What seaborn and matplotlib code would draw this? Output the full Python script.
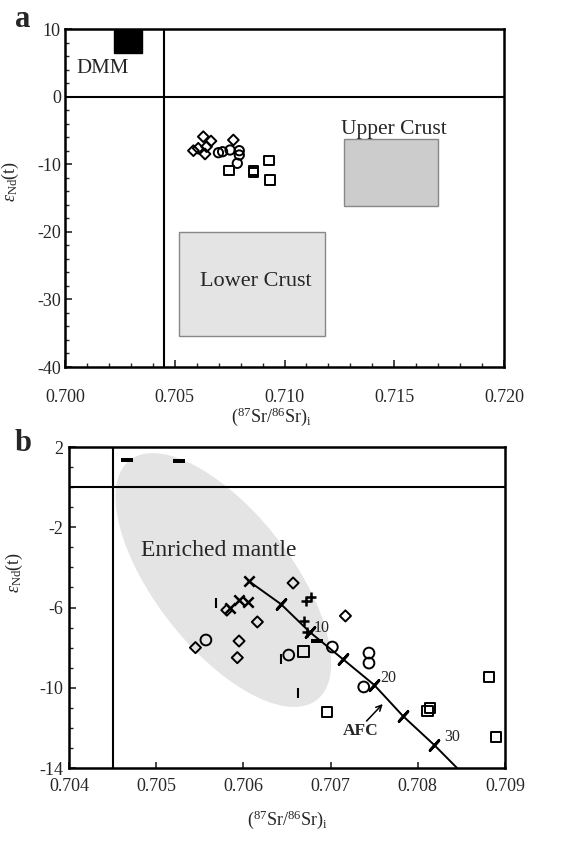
import numpy as np
import pandas as pd
import matplotlib
matplotlib.use("Agg")
import matplotlib.pyplot as plt
import seaborn as sns
from matplotlib.patches import Rectangle
from matplotlib.ticker import MultipleLocator, FixedLocator, FormatStrFormatter
from matplotlib.path import Path

# ---------------- Panel a data ----------------
a_dia_x = [0.70630, 0.70665, 0.70645, 0.70607, 0.70585, 0.70638, 0.70767]
a_dia_y = [-5.93, -6.57, -7.41, -7.65, -8.00, -8.49, -6.42]
a_cir_x = [0.70699, 0.70718, 0.70752, 0.70794, 0.70794, 0.70785]
a_cir_y = [-8.30, -8.15, -7.90, -8.00, -8.64, -9.87]
a_sq_x = [0.70747, 0.70858, 0.70858, 0.70929, 0.70934]
a_sq_y = [-10.96, -10.96, -11.25, -9.48, -12.34]

# reservoirs (x0, x1, y0, y1)
dmm_box = (0.70223, 0.70351, 6.45, 10.0)
upper_crust_box = (0.7127, 0.7170, -16.2, -6.3)
lower_crust_box = (0.7052, 0.71185, -35.4, -20.0)

# ---------------- Panel b data ----------------
b_dia_x = [0.70657, 0.70717, 0.70616, 0.70581, 0.70545, 0.70595, 0.70593]
b_dia_y = [-4.78, -6.42, -6.72, -6.13, -8.00, -7.67, -8.50]
b_cir_x = [0.70557, 0.70652, 0.70702, 0.70744, 0.70744, 0.70738]
b_cir_y = [-7.62, -8.37, -7.97, -8.27, -8.77, -9.96]
b_sq_x = [0.70669, 0.70696, 0.70811, 0.70814, 0.70882, 0.70890]
b_sq_y = [-8.20, -11.20, -11.16, -11.00, -9.47, -12.46]
b_x_x = [0.70606, 0.70595, 0.70605, 0.70585]
b_x_y = [-4.68, -5.63, -5.73, -6.00]
b_plus_x = [0.70672, 0.70678, 0.70670, 0.70673]
b_plus_y = [-5.66, -5.49, -6.68, -7.20]
b_bar_x = [0.70467, 0.70526, 0.70684]
b_bar_y = [1.35, 1.30, -7.67]
b_vbar_x = [0.70569, 0.70643, 0.70663]
b_vbar_y = [-5.79, -8.57, -10.28]

# AFC curve with tick marks (F %)
afc_x = [0.70606, 0.70643, 0.70676, 0.70714, 0.70750, 0.70783, 0.70819, 0.70845]
afc_y = [-4.68, -5.83, -7.22, -8.57, -9.86, -11.41, -12.86, -14.0]
afc_F = [0, 5, 10, 15, 20, 25, 30]
afc_labels = {10: (0.70690, -7.02), 20: (0.70766, -9.52), 30: (0.70840, -12.46)}

# Enriched mantle ellipse (center in data, axes in pixels)
em_center = (0.70577, -4.63)
em_semi_px = (152, 68)
em_angle = -52

sr_ref = 0.7045

sns.set_style("ticks")
plt.rcParams["font.family"] = ["Liberation Serif", "DejaVu Serif"]
plt.rcParams["mathtext.fontset"] = "custom"
plt.rcParams["mathtext.rm"] = "Liberation Serif"
plt.rcParams["mathtext.it"] = "Liberation Serif:italic"
plt.rcParams["axes.unicode_minus"] = False

fig = plt.figure(figsize=(5.62, 8.47), dpi=100)
W, H = 562, 847
axa = fig.add_axes([65 / W, 1 - 367 / H, 439 / W, 338 / H])
axb = fig.add_axes([69 / W, 1 - 768 / H, 436 / W, 321 / H])

open_kw = dict(color="black", facecolor="none", edgecolor="black", linewidth=1.4, legend=False, zorder=5)
line_kw = dict(color="black", edgecolor="black", legend=False, zorder=6)

# ---------- panel a ----------
axa.set_xlim(0.700, 0.720)
axa.set_ylim(-40, 10)
for (x0, x1, y0, y1), fc, ec in [
    (dmm_box, "black", "black"),
    (upper_crust_box, "#cccccc", "#888888"),
    (lower_crust_box, "#e4e4e4", "#888888"),
]:
    axa.add_patch(Rectangle((x0, y0), x1 - x0, y1 - y0, facecolor=fc, edgecolor=ec, lw=1.0, zorder=2))
axa.axvline(sr_ref, color="black", lw=1.5, zorder=3)
axa.axhline(0, color="black", lw=1.5, zorder=3)
sns.scatterplot(x=a_dia_x, y=a_dia_y, marker="D", s=30, ax=axa, **open_kw)
sns.scatterplot(x=a_cir_x, y=a_cir_y, marker="o", s=45, ax=axa, **open_kw)
sns.scatterplot(x=a_sq_x, y=a_sq_y, marker="s", s=45, ax=axa, **open_kw)
axa.text(0.70173, 4.2, "DMM", fontsize=15, ha="center", va="center")
axa.text(0.71499, -4.9, "Upper Crust", fontsize=15.5, ha="center", va="center")
axa.text(0.70870, -27.4, "Lower Crust", fontsize=16, ha="center", va="center")
axa.xaxis.set_major_locator(MultipleLocator(0.005))
axa.xaxis.set_minor_locator(MultipleLocator(0.001))
axa.yaxis.set_major_locator(MultipleLocator(10))
axa.yaxis.set_minor_locator(MultipleLocator(2))
axa.xaxis.set_major_formatter(FormatStrFormatter("%.3f"))
axa.tick_params(axis="x", which="major", direction="in", length=5, width=1.2, pad=16, labelsize=13)
axa.tick_params(axis="y", which="major", direction="in", length=5, width=1.2, pad=3, labelsize=13)
axa.tick_params(which="minor", direction="in", length=3, width=1.0)
axa.set_xlabel(r"$(^{87}\mathrm{Sr}/^{86}\mathrm{Sr})_{\mathrm{i}}$", fontsize=13)
axa.set_ylabel(r"$\varepsilon_{\mathrm{Nd}}\mathrm{(t)}$", fontsize=13)
axa.xaxis.set_label_coords(0.47, -0.115)
axa.yaxis.set_label_coords(-0.1, 0.55)
axa.text(-0.115, 1.07, "a", transform=axa.transAxes, fontsize=22, fontweight="bold", va="top")

# ---------- panel b ----------
axb.set_xlim(0.704, 0.709)
axb.set_ylim(-14, 2)
cxd, cyd = axb.transData.transform(em_center)
t = np.linspace(0, 2 * np.pi, 300)
th = np.deg2rad(em_angle)
ex = em_semi_px[0] * np.cos(t)
ey = em_semi_px[1] * np.sin(t)
dx = cxd + ex * np.cos(th) - ey * np.sin(th)
dy = cyd + ex * np.sin(th) + ey * np.cos(th)
poly = axb.transData.inverted().transform(np.column_stack([dx, dy]))
axb.fill(poly[:, 0], poly[:, 1], color="#e4e4e4", lw=0, zorder=1)
axb.axvline(sr_ref, color="black", lw=1.5, zorder=3)
axb.axhline(0, color="black", lw=1.5, zorder=3)

# AFC curve
axb.plot(afc_x, afc_y, color="black", lw=1.4, zorder=4)
p0 = axb.transData.transform((afc_x[0], afc_y[0]))
p1 = axb.transData.transform((afc_x[-1], afc_y[-1]))
ang = np.degrees(np.arctan2(p1[1] - p0[1], p1[0] - p0[0]))
tick_marker = (2, 2, ang)
sns.scatterplot(x=afc_x[1:len(afc_F)], y=afc_y[1:len(afc_F)], marker=tick_marker, s=90,
                linewidth=2.0, ax=axb, **line_kw)
for F, (lx, ly) in afc_labels.items():
    axb.text(lx, ly, str(F), fontsize=11.5, ha="center", va="center")

bar_path = Path([(-1, -0.4), (1, -0.4), (1, 0.4), (-1, 0.4), (-1, -0.4)],
                [Path.MOVETO, Path.LINETO, Path.LINETO, Path.LINETO, Path.CLOSEPOLY])
sns.scatterplot(x=b_dia_x, y=b_dia_y, marker="D", s=32, ax=axb, **open_kw)
sns.scatterplot(x=b_cir_x, y=b_cir_y, marker="o", s=60, ax=axb, **open_kw)
sns.scatterplot(x=b_sq_x, y=b_sq_y, marker="s", s=55, ax=axb, **open_kw)
sns.scatterplot(x=b_x_x, y=b_x_y, marker="x", s=55, linewidth=1.8, ax=axb, **line_kw)
sns.scatterplot(x=b_plus_x, y=b_plus_y, marker="+", s=60, linewidth=1.8, ax=axb, **line_kw)
sns.scatterplot(x=b_bar_x, y=b_bar_y, marker=bar_path, s=70, linewidth=0, ax=axb, **line_kw)
sns.scatterplot(x=b_vbar_x, y=b_vbar_y, marker="|", s=60, linewidth=1.5, ax=axb, **line_kw)

axb.text(0.70572, -3.18, "Enriched mantle", fontsize=17, ha="center", va="center")
axb.text(0.70734, -12.16, "AFC", fontsize=12.5, fontweight="bold", ha="center", va="center")
axb.annotate("", xy=(0.70762, -10.71), xytext=(0.70739, -11.76),
             arrowprops=dict(arrowstyle="->", color="black", lw=1.1))

axb.xaxis.set_major_locator(MultipleLocator(0.001))
axb.xaxis.set_major_formatter(FormatStrFormatter("%.3f"))
axb.yaxis.set_major_locator(FixedLocator([2, -2, -6, -10, -14]))
axb.yaxis.set_minor_locator(MultipleLocator(1))
axb.tick_params(axis="x", which="major", direction="in", length=4, width=1.2, pad=7, labelsize=13)
axb.tick_params(axis="y", which="major", direction="in", length=5, width=1.2, pad=4, labelsize=13)
axb.tick_params(which="minor", direction="in", length=3, width=1.0)
axb.set_xlabel(r"$(^{87}\mathrm{Sr}/^{86}\mathrm{Sr})_{\mathrm{i}}$", fontsize=13)
axb.set_ylabel(r"$\varepsilon_{\mathrm{Nd}}\mathrm{(t)}$", fontsize=13)
axb.xaxis.set_label_coords(0.5, -0.125)
axb.yaxis.set_label_coords(-0.1, 0.61)
axb.text(-0.125, 1.055, "b", transform=axb.transAxes, fontsize=22, fontweight="bold", va="top")

for ax in (axa, axb):
    for sp in ax.spines.values():
        sp.set_visible(True)
        sp.set_linewidth(1.8)
        sp.set_color("black")
    ax.set_facecolor("white")

fig.savefig("out.png", dpi=100)
